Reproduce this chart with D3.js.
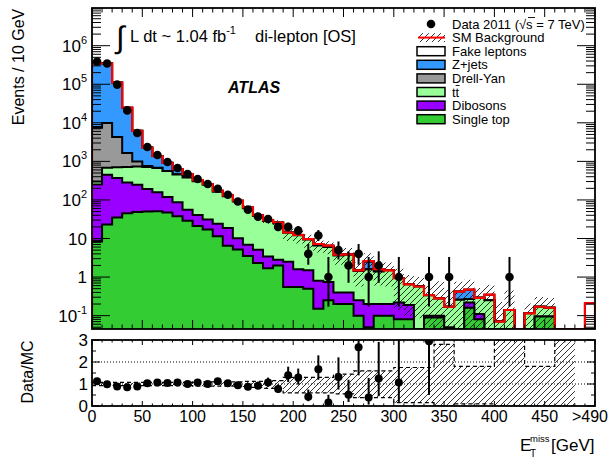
<!DOCTYPE html>
<html>
<head>
<meta charset="utf-8">
<script src="https://cdn.jsdelivr.net/npm/d3@7"></script>
<style>
  body { margin: 0; background: #fff; }
  svg { font-family: "Liberation Sans", Arial, Helvetica, sans-serif; }
</style>
</head>
<body>
<div id="chart"></div>
<script>
// 10 GeV bins, last one is the overflow (>490)
const BIN_EDGES = d3.range(0, 510, 10);

const DATA = [390000, 345000, 98000, 21000, 5470, 2370, 1470, 965, 674, 471,
  349, 259, 195, 136, 91, 56, 37, 32, 20, 20,
  16, 4, 12, 1, 5, 2, 4, 1, 2, 0,
  1, 0, 0, 1, 0, 1, 0, 0, 0, 0,
  0, 1, 0, 0, 0, 0, 0, 0, 0, 0];

const SINGLE_TOP = [8.4, 23, 35, 45, 49, 50, 51, 47, 38, 29,
  21, 17, 11.5, 6.5, 5.2, 3.5, 2.3, 1.7, 2.0, 0.55,
  0.55, 0.5, 0.15, 0.25, 0.2, 0.2, 0.1, 0.05, 0.1, 0.1,
  0.08, 0.08, 0, 0.09, 0.09, 0, 0, 0.16, 0.08, 0,
  0, 0, 0, 0, 0.095, 0.095, 0, 0, 0, 0];

const DIBOSONS = [242, 427, 335, 240, 199, 142, 107, 73, 49, 27,
  20, 14, 12.5, 12.1, 5, 3.4, 2.8, 1.7, 0.8, 1.95,
  1.05, 1.0, 0.65, 0.5, 0.2, 0.2, 0.15, 0.15, 0.1, 0.1,
  0.14, 0.11, 0, 0.01, 0.01, 0.05, 0, 0.06, 0.03, 0,
  0, 0, 0, 0, 0, 0, 0, 0, 0, 0];

const TTBAR = [50, 230, 330, 435, 492, 524, 517, 440, 373, 324,
  265, 215, 140, 106, 81, 54, 33, 25.2, 22, 11.5,
  10.5, 7.9, 5.8, 5.3, 3.2, 3.4, 1.18, 1.4, 1.2, 1.3,
  0.72, 0.46, 0.57, 0.24, 0.18, 0.12, 0.26, 0.05, 0.18, 0.25,
  0.07, 0.14, 0, 0.115, 0.075, 0.065, 0, 0, 0, 0];

const DRELL_YAN = [7100, 9220, 3600, 930, 260, 44, 5, 2, 1, 0,
  0, 0, 0, 0, 0, 0, 0, 0, 0, 0,
  0, 0, 0, 0, 0, 0, 0, 0, 0, 0,
  0, 0, 0, 0, 0, 0, 0, 0, 0, 0,
  0, 0, 0, 0, 0, 0, 0, 0, 0, 0];

const ZJETS = [337600, 340100, 106700, 23050, 5200, 1520, 690, 358, 169, 91,
  20, 13, 9, 6.4, 4.8, 3.1, 1.9, 1.4, 1.2, 0.3,
  0.3, 0.2, 0.6, 0.45, 0.2, 0.1, 0.07, 0.9, 0.2, 0,
  0, 0, 0, 0, 0, 0, 0.16, 0.2, 0, 0,
  0, 0, 0, 0, 0, 0, 0, 0, 0, 0];

const FAKES = [0, 0, 0, 0, 0, 0, 0, 0, 0, 0,
  0, 0, 0, 0, 0, 0, 0, 0, 0, 0,
  0, 0, 0, 0, 0, 0, 0, 0.1, 0, 0,
  0, 0, 0, 0, 0, 0, 0, 0, 0, 0.1,
  0, 0, 0, 0, 0, 0, 0, 0, 0, 0.21];

// relative SM uncertainty (lower / upper edge, as a fraction of the SM total)
const BAND_LO = [0.93, 0.93, 0.93, 0.93, 0.93, 0.93, 0.93, 0.93, 0.93, 0.93,
  0.9, 0.9, 0.9, 0.9, 0.9, 0.85, 0.85, 0.8, 0.8, 0.6,
  0.6, 0.6, 0.6, 0.6, 0.55, 0.55, 0.38, 0.38, 0.38, 0.38,
  0.15, 0.15, 0.15, 0.15, 0, 0, 0.1, 0.1, 0.1, 0.1,
  0, 0, 0, 0, 0, 0, 0, 0, null, null];
const BAND_HI = [1.07, 1.07, 1.07, 1.07, 1.07, 1.07, 1.07, 1.07, 1.07, 1.07,
  1.1, 1.1, 1.1, 1.1, 1.1, 1.12, 1.12, 1.15, 1.15, 1.3,
  1.3, 1.3, 1.3, 1.3, 1.45, 1.45, 1.6, 1.6, 1.6, 1.6,
  1.75, 1.75, 1.75, 1.75, 2.8, 2.8, 1.8, 1.8, 1.8, 1.8,
  3.2, 3.2, 3.2, 1.8, 1.8, 1.8, 3.2, 3.2, null, null];

const X_TICK_VALUES = [0, 50, 100, 150, 200, 250, 300, 350, 400, 450, 495];
const X_TICK_LABELS = ['0', '50', '100', '150', '200', '250', '300', '350', '400', '450', '>490'];
const Y_TICK_EXP = [-1, 0, 1, 2, 3, 4, 5, 6];
const RATIO_TICKS = [0, 1, 2, 3];

const LEGEND = ['Data 2011', 'SM Background', 'Fake leptons', 'Z+jets', 'Drell-Yan', 'tt', 'Dibosons', 'Single top'];

// stack, bottom to top
const LAYERS = [
  { name: 'Single top', values: SINGLE_TOP, color: '#33cc33' },
  { name: 'Dibosons', values: DIBOSONS, color: '#9900ff' },
  { name: 'ttbar', values: TTBAR, color: '#99ff99' },
  { name: 'Drell-Yan', values: DRELL_YAN, color: '#999999' },
  { name: 'Z+jets', values: ZJETS, color: '#3399ff' },
  { name: 'Fake leptons', values: FAKES, color: '#ffffff' }
];

const WIDTH = 612, HEIGHT = 462;
const LEFT = 92, RIGHT = 595;
const MAIN_TOP = 8, MAIN_BOTTOM = 329;
const RATIO_TOP = 340, RATIO_BOTTOM = 406;
const Y_MIN = 0.045;

const svg = d3.select('#chart')
  .append('svg')
  .attr('width', WIDTH)
  .attr('height', HEIGHT);

const x = d3.scaleLinear().domain([0, 500]).range([LEFT, RIGHT]);
const y = d3.scaleLog().domain([Y_MIN, 9.5e6]).range([MAIN_BOTTOM, MAIN_TOP]).clamp(true);
const yr = d3.scaleLinear().domain([0, 3]).range([RATIO_BOTTOM, RATIO_TOP]).clamp(true);
const yv = v => y(Math.max(v, Y_MIN * 0.5));

const defs = svg.append('defs');
defs.append('pattern')
  .attr('id', 'hatch')
  .attr('patternUnits', 'userSpaceOnUse')
  .attr('width', 6).attr('height', 6)
  .append('path')
  .attr('d', 'M-1,1 l2,-2 M0,6 l6,-6 M5,7 l2,-2')
  .attr('stroke', '#000')
  .attr('stroke-width', 0.8);
defs.append('clipPath').attr('id', 'clip_main')
  .append('rect').attr('x', LEFT).attr('y', MAIN_TOP).attr('width', RIGHT - LEFT).attr('height', MAIN_BOTTOM - MAIN_TOP);
defs.append('clipPath').attr('id', 'clip_ratio')
  .append('rect').attr('x', LEFT).attr('y', RATIO_TOP).attr('width', RIGHT - LEFT).attr('height', RATIO_BOTTOM - RATIO_TOP);

// step points of a binned series, closed down to the axis at both ends
function steps(vals, closed){
  const pts = closed ? [[0, 0]] : [];
  vals.forEach((v, i) => { pts.push([BIN_EDGES[i], v], [BIN_EDGES[i + 1], v]); });
  if (closed) pts.push([500, 0]);
  return pts;
}

// cumulative sums for the stack
let running = BIN_EDGES.slice(0, -1).map(() => 0);
LAYERS.forEach(l => {
  running = running.map((r, i) => r + l.values[i]);
  l.cum = running.slice();
});
const TOTAL = running;

const main = svg.append('g').attr('clip-path', 'url(#clip_main)');

const area = d3.area().x(d => x(d[0])).y0(MAIN_BOTTOM).y1(d => yv(d[1]));
const line = d3.line().x(d => x(d[0])).y(d => yv(d[1]));

LAYERS.slice().reverse().forEach(l => {
  main.append('path')
    .attr('d', area(steps(l.cum, true)))
    .attr('fill', l.color);
  main.append('path')
    .attr('d', line(steps(l.cum, true)))
    .attr('fill', 'none')
    .attr('stroke', '#000')
    .attr('stroke-width', 2);
});

// SM uncertainty band on the main pad
const bandPts = [];
TOTAL.forEach((t, i) => {
  const ok = t > 0 && BAND_HI[i] != null;
  bandPts.push({ x: BIN_EDGES[i], lo: t * BAND_LO[i], hi: t * BAND_HI[i], ok: ok });
  bandPts.push({ x: BIN_EDGES[i + 1], lo: t * BAND_LO[i], hi: t * BAND_HI[i], ok: ok });
});
main.append('path')
  .attr('d', d3.area().defined(d => d.ok).x(d => x(d.x)).y0(d => yv(d.lo)).y1(d => yv(d.hi))(bandPts))
  .attr('fill', 'url(#hatch)');

main.append('path')
  .attr('d', line(steps(TOTAL, true)))
  .attr('fill', 'none')
  .attr('stroke', '#ff0000')
  .attr('stroke-width', 2.2);

// Poisson (Gehrels) error bars on data
const errUp = n => n + Math.sqrt(n + 0.75) + 1;
const errLo = n => n * Math.pow(1 - 1 / (9 * n) - 1 / (3 * Math.sqrt(n)), 3);
const points = DATA.map((n, i) => ({ n: n, c: BIN_EDGES[i] + 5, t: TOTAL[i] })).filter(d => d.n > 0);

main.selectAll('.err').data(points).enter().append('line')
  .attr('x1', d => x(d.c)).attr('x2', d => x(d.c))
  .attr('y1', d => yv(errLo(d.n))).attr('y2', d => yv(errUp(d.n)))
  .attr('stroke', '#000').attr('stroke-width', 2);
main.selectAll('.pt').data(points).enter().append('circle')
  .attr('cx', d => x(d.c)).attr('cy', d => yv(d.n)).attr('r', 4.3)
  .attr('fill', '#000');

// ratio pad
const ratio = svg.append('g').attr('clip-path', 'url(#clip_ratio)');
const rBand = [];
BAND_LO.forEach((lo, i) => {
  rBand.push({ x: BIN_EDGES[i], lo: lo, hi: BAND_HI[i] });
  rBand.push({ x: BIN_EDGES[i + 1], lo: lo, hi: BAND_HI[i] });
});
const rDefined = d => d.lo != null;
ratio.append('path')
  .attr('d', d3.area().defined(rDefined).x(d => x(d.x)).y0(d => yr(d.lo)).y1(d => yr(d.hi))(rBand))
  .attr('fill', 'url(#hatch)');
['lo', 'hi'].forEach(k => {
  ratio.append('path')
    .attr('d', d3.line().defined(rDefined).x(d => x(d.x)).y(d => yr(d[k]))(rBand))
    .attr('fill', 'none').attr('stroke', '#000').attr('stroke-width', 1.2)
    .attr('stroke-dasharray', '4,3');
});
[1, 2].forEach(v => {
  ratio.append('line')
    .attr('x1', LEFT).attr('x2', RIGHT).attr('y1', yr(v)).attr('y2', yr(v))
    .attr('stroke', '#000').attr('stroke-width', 1).attr('stroke-dasharray', '1,2');
});
const rPoints = points.filter(d => d.t > 0 && d.n / d.t <= 3);
ratio.selectAll('.rerr').data(rPoints).enter().append('line')
  .attr('x1', d => x(d.c)).attr('x2', d => x(d.c))
  .attr('y1', d => yr(errLo(d.n) / d.t)).attr('y2', d => yr(errUp(d.n) / d.t))
  .attr('stroke', '#000').attr('stroke-width', 2);
ratio.selectAll('.rpt').data(rPoints).enter().append('circle')
  .attr('cx', d => x(d.c)).attr('cy', d => yr(d.n / d.t)).attr('r', 4)
  .attr('fill', '#000');

// frames and ticks
const axes = svg.append('g').attr('stroke', '#000');
function frame(top, bottom){
  axes.append('rect')
    .attr('x', LEFT).attr('y', top).attr('width', RIGHT - LEFT).attr('height', bottom - top)
    .attr('fill', 'none').attr('stroke-width', 1.8);
}
function xTicks(top, bottom, major, minor){
  d3.range(0, 510, 10).forEach(v => {
    const len = v % 50 === 0 ? major : minor;
    axes.append('line').attr('x1', x(v)).attr('x2', x(v)).attr('y1', bottom).attr('y2', bottom - len).attr('stroke-width', 1);
    axes.append('line').attr('x1', x(v)).attr('x2', x(v)).attr('y1', top).attr('y2', top + len).attr('stroke-width', 1);
  });
}
function yTick(py, len){
  axes.append('line').attr('x1', LEFT).attr('x2', LEFT + len).attr('y1', py).attr('y2', py).attr('stroke-width', 1);
  axes.append('line').attr('x1', RIGHT).attr('x2', RIGHT - len).attr('y1', py).attr('y2', py).attr('stroke-width', 1);
}
frame(MAIN_TOP, MAIN_BOTTOM);
frame(RATIO_TOP, RATIO_BOTTOM);
xTicks(MAIN_TOP, MAIN_BOTTOM, 9, 4.5);
xTicks(RATIO_TOP, RATIO_BOTTOM, 5, 2.5);

d3.range(-2, 7).forEach(k => {
  d3.range(1, 10).forEach(m => {
    const v = m * Math.pow(10, k);
    if (v < Y_MIN || v > 9.5e6) return;
    yTick(y(v), m === 1 ? 18 : 9);
  });
});
d3.range(0, 3.01, 0.5).forEach(v => yTick(yr(v), v % 1 === 0 ? 8 : 4));

// tick labels
const labels = svg.append('g').attr('fill', '#000');
Y_TICK_EXP.forEach(k => {
  const t = labels.append('text')
    .attr('x', 87).attr('y', y(Math.pow(10, k)) + 6)
    .attr('text-anchor', 'end')
    .attr('font-size', 17);
  if (k === 0) t.text('1');
  else if (k === 1) t.text('10');
  else {
    t.append('tspan').text('10');
    t.append('tspan').attr('font-size', 11).attr('dy', -8).text(k);
  }
});
RATIO_TICKS.forEach(v => {
  labels.append('text')
    .attr('x', 88).attr('y', yr(v) + 6)
    .attr('text-anchor', 'end').attr('font-size', 17)
    .text(v);
});
X_TICK_VALUES.forEach((v, i) => {
  labels.append('text')
    .attr('x', x(v)).attr('y', 422)
    .attr('text-anchor', 'middle').attr('font-size', 16)
    .text(X_TICK_LABELS[i]);
});

// axis titles
labels.append('text')
  .attr('transform', 'translate(24,67) rotate(-90)')
  .attr('text-anchor', 'middle').attr('font-size', 16)
  .text('Events / 10 GeV');
labels.append('text')
  .attr('transform', 'translate(33,372) rotate(-90)')
  .attr('text-anchor', 'middle').attr('font-size', 16)
  .text('Data/MC');
labels.append('text').attr('x', 520).attr('y', 451).attr('font-size', 17).text('E');
labels.append('text').attr('x', 530).attr('y', 442).attr('font-size', 9.5).text('miss');
labels.append('text').attr('x', 530).attr('y', 457).attr('font-size', 10).text('T');
labels.append('text').attr('x', 551).attr('y', 451).attr('font-size', 17).text('[GeV]');

// annotations
labels.append('text').attr('x', 116).attr('y', 48).attr('font-size', 31).text('\u222b');
const lumi = labels.append('text').attr('x', 130).attr('y', 42).attr('font-size', 16.5);
lumi.append('tspan').text('L dt ~ 1.04 fb');
lumi.append('tspan').attr('font-size', 11).attr('dy', -8).text('-1');
labels.append('text').attr('x', 255).attr('y', 42).attr('font-size', 16.5).text('di-lepton [OS]');
labels.append('text').attr('x', 228).attr('y', 93)
  .attr('font-size', 16).attr('font-weight', 'bold').attr('font-style', 'italic')
  .text('ATLAS');

// legend
const LEG_Y = LEGEND.map((_, i) => 24 + i * 13.6);
const leg = svg.append('g');
leg.append('circle').attr('cx', 431).attr('cy', LEG_Y[0]).attr('r', 4.3).attr('fill', '#000');
leg.append('rect').attr('x', 418).attr('y', LEG_Y[1] - 4.5).attr('width', 27).attr('height', 9).attr('fill', 'url(#hatch)');
leg.append('line').attr('x1', 418).attr('x2', 445).attr('y1', LEG_Y[1]).attr('y2', LEG_Y[1])
  .attr('stroke', '#ff0000').attr('stroke-width', 2);
LAYERS.slice().reverse().forEach((l, i) => {
  leg.append('rect')
    .attr('x', 417).attr('y', LEG_Y[i + 2] - 4.5)
    .attr('width', 28).attr('height', 9)
    .attr('fill', l.color).attr('stroke', '#000').attr('stroke-width', 1.5);
});
LEGEND.forEach((name, i) => {
  const t = leg.append('text')
    .attr('x', 452).attr('y', LEG_Y[i] + 4.6)
    .attr('font-size', 13);
  if (i === 0) t.text('Data 2011 (\u221as = 7 TeV)');
  else t.text(name);
});
// bars over the s of sqrt(s) and the second t of ttbar
leg.append('line').attr('x1', 528).attr('x2', 535).attr('y1', LEG_Y[0] - 6.5).attr('y2', LEG_Y[0] - 6.5)
  .attr('stroke', '#000').attr('stroke-width', 0.9);
leg.append('line').attr('x1', 455.6).attr('x2', 459.6).attr('y1', LEG_Y[5] - 6.5).attr('y2', LEG_Y[5] - 6.5)
  .attr('stroke', '#000').attr('stroke-width', 0.9);
</script>
</body>
</html>
